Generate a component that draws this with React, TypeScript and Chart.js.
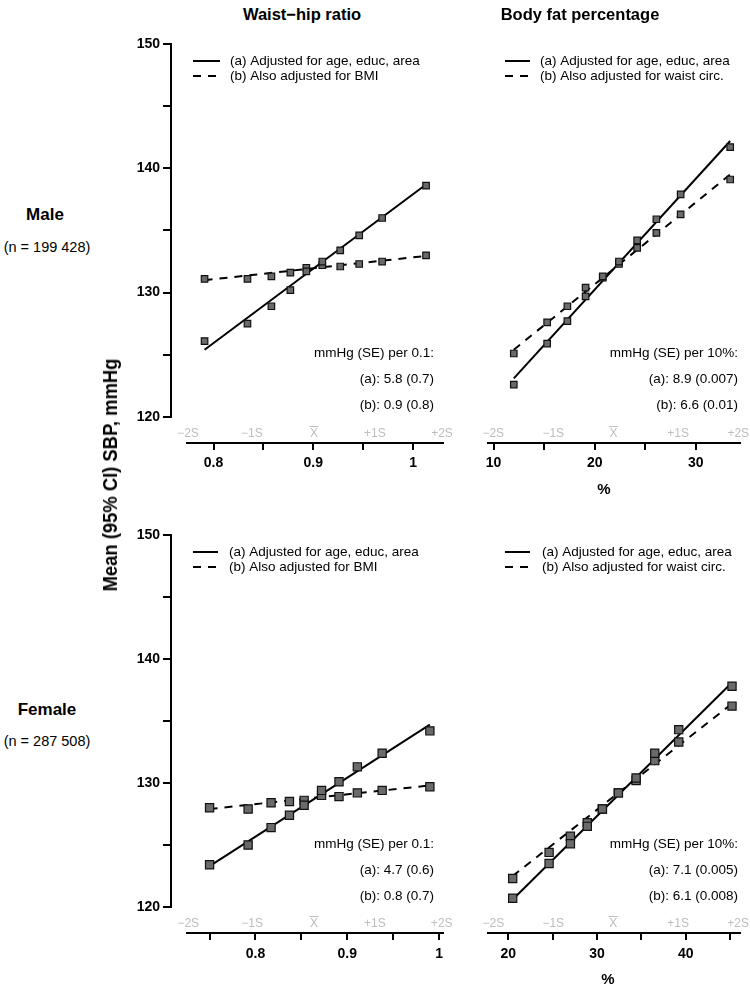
import React, { useEffect, useRef } from 'react';
import { Chart, registerables } from 'chart.js';

Chart.register(...registerables);

const FONT = "'Liberation Sans', Arial, Helvetica, sans-serif";

// ---------------- data ----------------
const yTickValues = [120, 125, 130, 135, 140, 145, 150];
const yTickLabels = [120, 130, 140, 150];
const sLabelTexts = ['\u22122S', '\u22121S', 'X', '+1S', '+2S'];

// Male – waist-hip ratio
const whrMaleX = [0.791, 0.834, 0.858, 0.877, 0.893, 0.909, 0.927, 0.946, 0.969, 1.013];
const whrMaleA = [126.1, 127.5, 128.9, 130.2, 131.7, 132.5, 133.4, 134.6, 136.0, 138.6];
const whrMaleB = [131.1, 131.1, 131.3, 131.6, 132.0, 132.2, 132.1, 132.3, 132.5, 133.0];
const whrMaleLineX = [0.791, 1.013];
const whrMaleLineA = [125.4, 138.7];
const whrMaleLineB = [131.0, 132.95];
const whrMaleS = [0.7744, 0.8385, 0.9007, 0.9618, 1.029];
const whrMaleXTicks = [0.8, 0.85, 0.9, 0.95, 1];
const whrMaleXLabels = [0.8, 0.9, 1];

// Male – body fat percentage
const bfpMaleX = [12.0, 15.3, 17.3, 19.1, 20.8, 22.4, 24.2, 26.1, 28.5, 33.4];
const bfpMaleA = [122.6, 125.9, 127.7, 129.7, 131.3, 132.5, 134.2, 135.9, 137.9, 141.7];
const bfpMaleB = [125.1, 127.6, 128.9, 130.4, 131.2, 132.3, 133.6, 134.8, 136.3, 139.1];
const bfpMaleLineX = [12.0, 33.4];
const bfpMaleLineA = [123.1, 142.2];
const bfpMaleLineB = [125.4, 139.5];
const bfpMaleS = [9.97, 15.9, 21.85, 28.25, 34.2];
const bfpMaleXTicks = [10, 15, 20, 25, 30];
const bfpMaleXLabels = [10, 20, 30];

// Female – waist-hip ratio
const whrFemaleX = [0.75, 0.792, 0.817, 0.837, 0.853, 0.872, 0.891, 0.911, 0.938, 0.99];
const whrFemaleA = [123.4, 125.0, 126.4, 127.4, 128.2, 129.4, 130.1, 131.3, 132.4, 134.2];
const whrFemaleB = [128.0, 127.9, 128.4, 128.5, 128.6, 129.0, 128.9, 129.2, 129.4, 129.7];
const whrFemaleLineX = [0.75, 0.99];
const whrFemaleLineA = [123.3, 134.7];
const whrFemaleLineB = [127.9, 129.8];
const whrFemaleS = [0.7268, 0.7964, 0.8638, 0.9301, 1.0029];
const whrFemaleXTicks = [0.75, 0.8, 0.85, 0.9, 0.95, 1];
const whrFemaleXLabels = [0.8, 0.9, 1];

// Female – body fat percentage
const bfpFemaleX = [20.5, 24.6, 27.0, 28.9, 30.6, 32.4, 34.4, 36.5, 39.2, 45.2];
const bfpFemaleA = [120.7, 123.5, 125.1, 126.5, 127.9, 129.2, 130.4, 132.4, 134.3, 137.8];
const bfpFemaleB = [122.3, 124.4, 125.7, 126.8, 127.9, 129.2, 130.2, 131.8, 133.3, 136.2];
const bfpFemaleLineX = [20.5, 45.2];
const bfpFemaleLineA = [120.6, 138.1];
const bfpFemaleLineB = [122.5, 136.4];
const bfpFemaleS = [18.32, 25.07, 31.82, 39.13, 45.88];
const bfpFemaleXTicks = [20, 25, 30, 35, 40, 45];
const bfpFemaleXLabels = [20, 30, 40];

const legendA = '(a) Adjusted for age, educ, area';
const legendBBmi = '(b) Also adjusted for BMI';
const legendBWaist = '(b) Also adjusted for waist circ.';

const notesWhrMale = ['mmHg (SE) per 0.1:', '(a): 5.8 (0.7)', '(b): 0.9 (0.8)'];
const notesBfpMale = ['mmHg (SE) per 10%:', '(a): 8.9 (0.007)', '(b): 6.6 (0.01)'];
const notesWhrFemale = ['mmHg (SE) per 0.1:', '(a): 4.7 (0.6)', '(b): 0.8 (0.7)'];
const notesBfpFemale = ['mmHg (SE) per 10%:', '(a): 7.1 (0.005)', '(b): 6.1 (0.008)'];

// ---------------- panel configs ----------------
type PanelCfg = {
  key: string;
  left: number; top: number; width: number; height: number;
  pad: { top: number; left: number; right: number; bottom: number };
  showY: boolean;
  xMin: number; xMax: number; xTicks: number[]; xLabels: number[];
  xTitle: string; xTitleDx: number;
  sPos: number[];
  ptX: number[]; ptA: number[]; ptB: number[];
  lineX: number[]; lineA: number[]; lineB: number[];
  markerR: number;
  legB: string;
  legSample: [number, number]; legText: number;
  notes: string[]; noteRight: number;
  tickPad: number;
};

const Y_MIN = 117.9;
const Y_MAX = 150;

const panels: PanelCfg[] = [
  {
    key: 'tl', left: 100, top: 30, width: 360, height: 473,
    pad: { top: 14, left: 0, right: 17, bottom: 0 }, showY: true,
    xMin: 0.7734, xMax: 1.03, xTicks: whrMaleXTicks, xLabels: whrMaleXLabels, xTitle: '', xTitleDx: 0,
    sPos: whrMaleS, ptX: whrMaleX, ptA: whrMaleA, ptB: whrMaleB,
    lineX: whrMaleLineX, lineA: whrMaleLineA, lineB: whrMaleLineB, markerR: 4.6,
    legB: legendBBmi, legSample: [6, 33], legText: 43, notes: notesWhrMale, noteRight: 9, tickPad: 5,
  },
  {
    key: 'tr', left: 450, top: 30, width: 300, height: 473,
    pad: { top: 14, left: 38, right: 10, bottom: 0 }, showY: false,
    xMin: 9.45, xMax: 34.37, xTicks: bfpMaleXTicks, xLabels: bfpMaleXLabels, xTitle: '%', xTitleDx: 116,
    sPos: bfpMaleS, ptX: bfpMaleX, ptA: bfpMaleA, ptB: bfpMaleB,
    lineX: bfpMaleLineX, lineA: bfpMaleLineA, lineB: bfpMaleLineB, markerR: 4.6,
    legB: legendBWaist, legSample: [17, 42], legText: 52, notes: notesBfpMale, noteRight: 2, tickPad: 5,
  },
  {
    key: 'bl', left: 100, top: 500, width: 360, height: 493,
    pad: { top: 35, left: 0, right: 17, bottom: 0 }, showY: true,
    xMin: 0.7254, xMax: 1.0043, xTicks: whrFemaleXTicks, xLabels: whrFemaleXLabels, xTitle: '', xTitleDx: 0,
    sPos: whrFemaleS, ptX: whrFemaleX, ptA: whrFemaleA, ptB: whrFemaleB,
    lineX: whrFemaleLineX, lineA: whrFemaleLineA, lineB: whrFemaleLineB, markerR: 5.8,
    legB: legendBBmi, legSample: [6, 31], legText: 42, notes: notesWhrFemale, noteRight: 9, tickPad: 6,
  },
  {
    key: 'br', left: 450, top: 500, width: 300, height: 493,
    pad: { top: 35, left: 38, right: 10, bottom: 0 }, showY: false,
    xMin: 17.72, xMax: 46.1, xTicks: bfpFemaleXTicks, xLabels: bfpFemaleXLabels, xTitle: '%', xTitleDx: 120,
    sPos: bfpFemaleS, ptX: bfpFemaleX, ptA: bfpFemaleA, ptB: bfpFemaleB,
    lineX: bfpFemaleLineX, lineA: bfpFemaleLineA, lineB: bfpFemaleLineB, markerR: 5.8,
    legB: legendBWaist, legSample: [17, 42], legText: 54, notes: notesBfpFemale, noteRight: 2, tickPad: 6,
  },
];

function makeDecor(p: PanelCfg) {
  return {
    id: 'decor_' + p.key,
    afterDraw(chart: any) {
      const { ctx, chartArea: ca, scales } = chart;
      const xs = scales.x;
      const ys = scales.y;
      ctx.save();
      // y axis (R style, offset from the plot region)
      if (p.showY) {
        const ax = ca.left - 16;
        const yTop = ys.getPixelForValue(yTickValues[yTickValues.length - 1]);
        const yBot = ys.getPixelForValue(yTickValues[0]);
        ctx.strokeStyle = '#000';
        ctx.lineWidth = 2;
        ctx.beginPath();
        ctx.moveTo(ax, yTop - 1);
        ctx.lineTo(ax, yBot + 1);
        yTickValues.forEach((v) => {
          const py = Math.round(ys.getPixelForValue(v));
          ctx.moveTo(ax + 1, py);
          ctx.lineTo(ax - 8, py);
        });
        ctx.stroke();
      }
      // mean / SD labels
      const sy = ca.bottom - 9;
      ctx.font = '12px ' + FONT;
      ctx.textAlign = 'center';
      ctx.textBaseline = 'middle';
      ctx.fillStyle = '#bdbdbd';
      ctx.strokeStyle = '#bdbdbd';
      ctx.lineWidth = 1;
      p.sPos.forEach((v, i) => {
        const px = xs.getPixelForValue(v);
        ctx.fillText(sLabelTexts[i], px, sy);
        if (i === 2) {
          ctx.beginPath();
          ctx.moveTo(px - 4.5, sy - 7.5);
          ctx.lineTo(px + 4.5, sy - 7.5);
          ctx.stroke();
        }
      });
      // x axis title
      ctx.fillStyle = '#000';
      if (p.xTitle) {
        ctx.font = 'bold 15px ' + FONT;
        ctx.fillText(p.xTitle, ca.left + p.xTitleDx, ca.bottom + 47);
      }
      // legend
      ctx.strokeStyle = '#000';
      ctx.lineWidth = 2;
      const rows = [ca.top + 17, ca.top + 32];
      const lx0 = ca.left + p.legSample[0];
      const lx1 = ca.left + p.legSample[1];
      ctx.setLineDash([]);
      ctx.beginPath();
      ctx.moveTo(lx0, rows[0]);
      ctx.lineTo(lx1, rows[0]);
      ctx.stroke();
      ctx.setLineDash([8, 7]);
      ctx.beginPath();
      ctx.moveTo(lx0, rows[1]);
      ctx.lineTo(lx1, rows[1]);
      ctx.stroke();
      ctx.setLineDash([]);
      ctx.font = '13.5px ' + FONT;
      ctx.textAlign = 'left';
      ctx.fillText(legendA, ca.left + p.legText, rows[0]);
      ctx.fillText(p.legB, ca.left + p.legText, rows[1]);
      // slope notes
      ctx.textAlign = 'right';
      const nx = ca.right - p.noteRight;
      [309, 335, 361].forEach((dy, i) => {
        ctx.fillText(p.notes[i], nx, ca.top + dy);
      });
      ctx.restore();
    },
  };
}

function Panel({ p }: { p: PanelCfg }) {
  const ref = useRef<HTMLCanvasElement | null>(null);
  useEffect(() => {
    if (!ref.current) return;
    const pts = (xs: number[], ys: number[]) => xs.map((x, i) => ({ x, y: ys[i] }));
    const yScale: any = {
      type: 'linear',
      display: p.showY,
      min: Y_MIN,
      max: Y_MAX,
      afterBuildTicks: (s: any) => { s.ticks = yTickValues.map((v) => ({ value: v })); },
      grid: { display: false, drawTicks: true, tickLength: 27, drawOnChartArea: false },
      border: { display: false },
      ticks: {
        autoSkip: false, padding: 0, color: '#000',
        font: { family: FONT, size: 14, weight: 'bold' },
        callback: (v: any) => (yTickLabels.includes(Number(v)) ? String(v) : ''),
      },
    };
    if (p.showY) yScale.afterFit = (s: any) => { s.width = 87; };
    const chart = new Chart(ref.current, {
      type: 'scatter',
      data: {
        datasets: [
          {
            label: 'a-points', data: pts(p.ptX, p.ptA), pointStyle: 'rect', pointRadius: p.markerR,
            backgroundColor: '#6a6a6a', borderColor: '#111', borderWidth: 1.2, order: 0,
          },
          {
            label: 'b-points', data: pts(p.ptX, p.ptB), pointStyle: 'rect', pointRadius: p.markerR,
            backgroundColor: '#6a6a6a', borderColor: '#111', borderWidth: 1.2, order: 0,
          },
          {
            label: 'a-line', data: pts(p.lineX, p.lineA), showLine: true, pointRadius: 0,
            borderColor: '#000', borderWidth: 2, order: 1,
          },
          {
            label: 'b-line', data: pts(p.lineX, p.lineB), showLine: true, pointRadius: 0,
            borderColor: '#000', borderWidth: 2, borderDash: [8, 7], order: 1,
          },
        ],
      } as any,
      options: {
        animation: false,
        responsive: false,
        maintainAspectRatio: false,
        events: [],
        layout: { padding: p.pad },
        plugins: { legend: { display: false }, tooltip: { enabled: false } },
        scales: {
          x: {
            type: 'linear',
            min: p.xMin,
            max: p.xMax,
            afterBuildTicks: (s: any) => { s.ticks = p.xTicks.map((v) => ({ value: v })); },
            afterFit: (s: any) => { s.height = 60; },
            grid: { display: true, drawOnChartArea: false, drawTicks: true, tickLength: 7, color: '#000', lineWidth: 2 },
            border: { display: true, color: '#000', width: 2 },
            ticks: {
              autoSkip: false, maxRotation: 0, minRotation: 0, padding: p.tickPad, color: '#000',
              font: { family: FONT, size: 14, weight: 'bold' },
              callback: (v: any) => (p.xLabels.includes(Number(v)) ? String(v) : ''),
            },
          },
          y: yScale,
        },
      } as any,
      plugins: [makeDecor(p)],
    });
    return () => chart.destroy();
  }, [p]);
  return (
    <canvas
      ref={ref}
      width={p.width}
      height={p.height}
      style={{ position: 'absolute', left: p.left, top: p.top, width: p.width, height: p.height }}
    />
  );
}

const centered = (x: number, y: number, extra: React.CSSProperties = {}): React.CSSProperties => ({
  position: 'absolute', left: x, top: y, transform: 'translate(-50%, -50%)', whiteSpace: 'nowrap',
  lineHeight: 1, color: '#000', fontFamily: FONT, ...extra,
});

export default function App() {
  return (
    <div style={{ position: 'absolute', left: 0, top: 0, width: 750, height: 995, background: '#fff', overflow: 'hidden' }}>
      {panels.map((p) => <Panel key={p.key} p={p} />)}
      <div style={centered(302, 14, { fontSize: 16.5, fontWeight: 'bold' })}>Waist−hip ratio</div>
      <div style={centered(580, 14, { fontSize: 16.5, fontWeight: 'bold' })}>Body fat percentage</div>
      <div style={centered(45, 214, { fontSize: 17, fontWeight: 'bold' })}>Male</div>
      <div style={centered(47, 247, { fontSize: 14.5 })}>(n = 199 428)</div>
      <div style={centered(47, 709, { fontSize: 17, fontWeight: 'bold' })}>Female</div>
      <div style={centered(47, 741, { fontSize: 14.5 })}>(n = 287 508)</div>
      <div style={centered(110, 475, { fontSize: 20, fontWeight: 'bold', transform: 'translate(-50%, -50%) rotate(-90deg) scaleX(0.92)' })}>
        Mean (95% CI) SBP, mmHg
      </div>
    </div>
  );
}
